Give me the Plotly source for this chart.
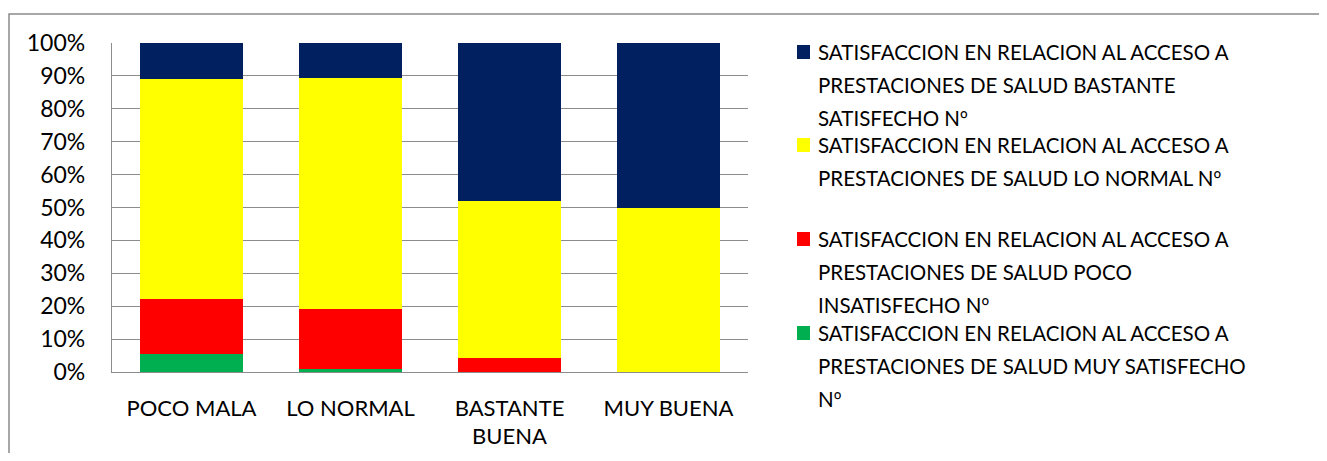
import plotly.graph_objects as go

categories = ["POCO MALA", "LO NORMAL", "BASTANTE<br>BUENA", "MUY BUENA"]

series_names = [
    "SATISFACCION EN RELACION AL ACCESO A PRESTACIONES DE SALUD MUY SATISFECHO Nº",
    "SATISFACCION EN RELACION AL ACCESO A PRESTACIONES DE SALUD POCO INSATISFECHO Nº",
    "SATISFACCION EN RELACION AL ACCESO A PRESTACIONES DE SALUD LO NORMAL Nº",
    "SATISFACCION EN RELACION AL ACCESO A PRESTACIONES DE SALUD BASTANTE SATISFECHO Nº",
]
# legend text as it wraps in the original
legend_lines = [
    ["SATISFACCION EN RELACION AL ACCESO A", "PRESTACIONES DE SALUD BASTANTE", "SATISFECHO Nº"],
    ["SATISFACCION EN RELACION AL ACCESO A", "PRESTACIONES DE SALUD LO NORMAL Nº"],
    ["SATISFACCION EN RELACION AL ACCESO A", "PRESTACIONES DE SALUD POCO", "INSATISFECHO Nº"],
    ["SATISFACCION EN RELACION AL ACCESO A", "PRESTACIONES DE SALUD MUY SATISFECHO", "Nº"],
]

muy_satisfecho = [5.6, 0.9, 0.0, 0.0]
poco_insatisfecho = [16.7, 18.3, 4.3, 0.0]
lo_normal = [66.7, 70.2, 47.8, 50.0]
bastante_satisfecho = [11.0, 10.6, 47.9, 50.0]

colors = ["#00B050", "#FF0000", "#FFFF00", "#002060"]

OFF = 8  # page body margin
W, H = 1327 - 2 * OFF, 461 - 2 * OFF
L, R, T, B = 112 - OFF, 748 - OFF, 43 - OFF, 372 - OFF  # plot area in figure pixels


def px_x(p):
    # p given in screenshot pixels
    return (p - OFF - L) / (R - L)


def px_y(p):
    return (B - (p - OFF)) / (B - T)


FONT = "Lato"
GRID = "#8C8C8C"


def fix_ordinal(s):
    # Lato draws º without the underline, borrow the glyph from Noto Sans
    return s.replace("º", '<span style="font-family:Noto Sans">º</span>')


fig = go.Figure()
for name, vals, col in zip(series_names,
                           [muy_satisfecho, poco_insatisfecho, lo_normal, bastante_satisfecho],
                           colors):
    fig.add_trace(go.Bar(x=categories, y=vals, name=name, marker_color=col,
                         marker_line_width=0))

fig.update_layout(
    barmode="stack",
    bargap=0.35,
    width=W, height=H,
    margin=dict(l=L, r=W - R, t=T, b=H - B),
    plot_bgcolor="white", paper_bgcolor="white",
    showlegend=False,
    font=dict(family=FONT, size=21, color="black"),
)
fig.update_yaxes(range=[0, 100], dtick=10, ticksuffix="%", showgrid=True,
                 gridcolor=GRID, gridwidth=1.3, showline=True, linecolor=GRID,
                 linewidth=1.3, ticklabelstandoff=21, zeroline=False,
                 tickfont=dict(size=23), automargin=False)
fig.update_xaxes(showline=True, linecolor=GRID, linewidth=1.3, ticklabelstandoff=16,
                 tickfont=dict(size=22), automargin=False)

# chart frame
fig.add_shape(type="rect", xref="paper", yref="paper",
              x0=px_x(9), x1=px_x(1345), y0=px_y(480), y1=px_y(14),
              line=dict(color="#8A8A8A", width=1.5), layer="below")

# legend drawn to match the original wrapping and spacing
top_lines = [52, 145, 239, 333]
colors_legend = colors[::-1]
for i, lines in enumerate(legend_lines):
    y0 = top_lines[i]
    fig.add_shape(type="rect", xref="paper", yref="paper",
                  x0=px_x(797), x1=px_x(810), y0=px_y(y0 + 7), y1=px_y(y0 - 7),
                  fillcolor=colors_legend[i], line_width=0)
    for j, txt in enumerate(lines):
        fig.add_annotation(x=px_x(816), y=px_y(y0 + j * 32.8), xref="paper", yref="paper",
                           text=fix_ordinal(txt), showarrow=False, xanchor="left",
                           yanchor="middle",
                           font=dict(family=FONT, size=20.5, color="black"))

fig.write_html("out.html")
